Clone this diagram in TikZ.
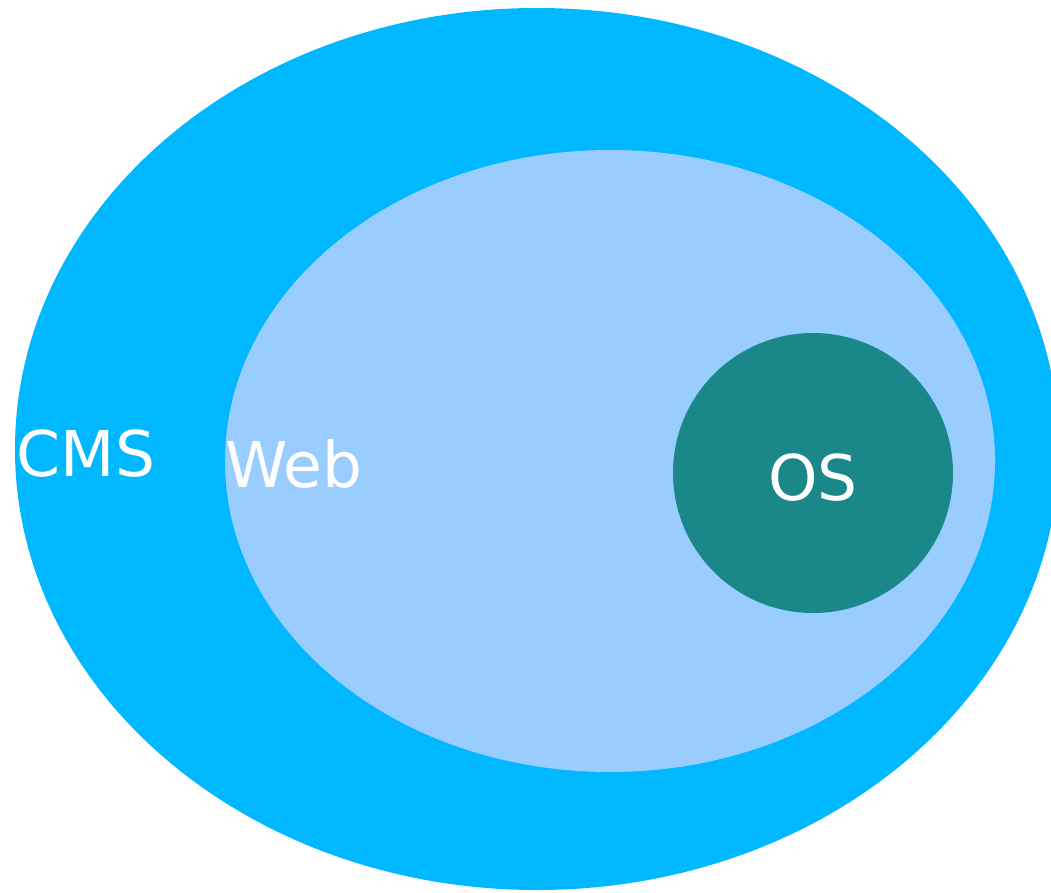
\documentclass[tikz,border=0pt]{standalone}
\usepackage{fontspec}
\setmainfont{DejaVu Sans}
\definecolor{cmsblue}{RGB}{0,184,255}
\definecolor{webblue}{RGB}{153,204,255}
\definecolor{osteal}{RGB}{26,136,136}
\begin{document}
\begin{tikzpicture}[x=1pt,y=-1pt,
    setlabel/.style={text=white, font=\fontsize{63}{63}\selectfont, anchor=base, inner sep=0pt}]
        \useasboundingbox (0,0) rectangle (1051,893);
        \fill[cmsblue] (537,449) ellipse [x radius=522, y radius=441];
        \fill[webblue] (610,461) ellipse [x radius=385, y radius=311];
        \fill[osteal] (813,473) circle [radius=140];
        \node[setlabel] (cms) at (86,476) {CMS};
        \node[setlabel] (web) at (294,487) {Web};
        \node[setlabel] (os) at (813,500) {OS};
    \end{tikzpicture}
\end{document}
